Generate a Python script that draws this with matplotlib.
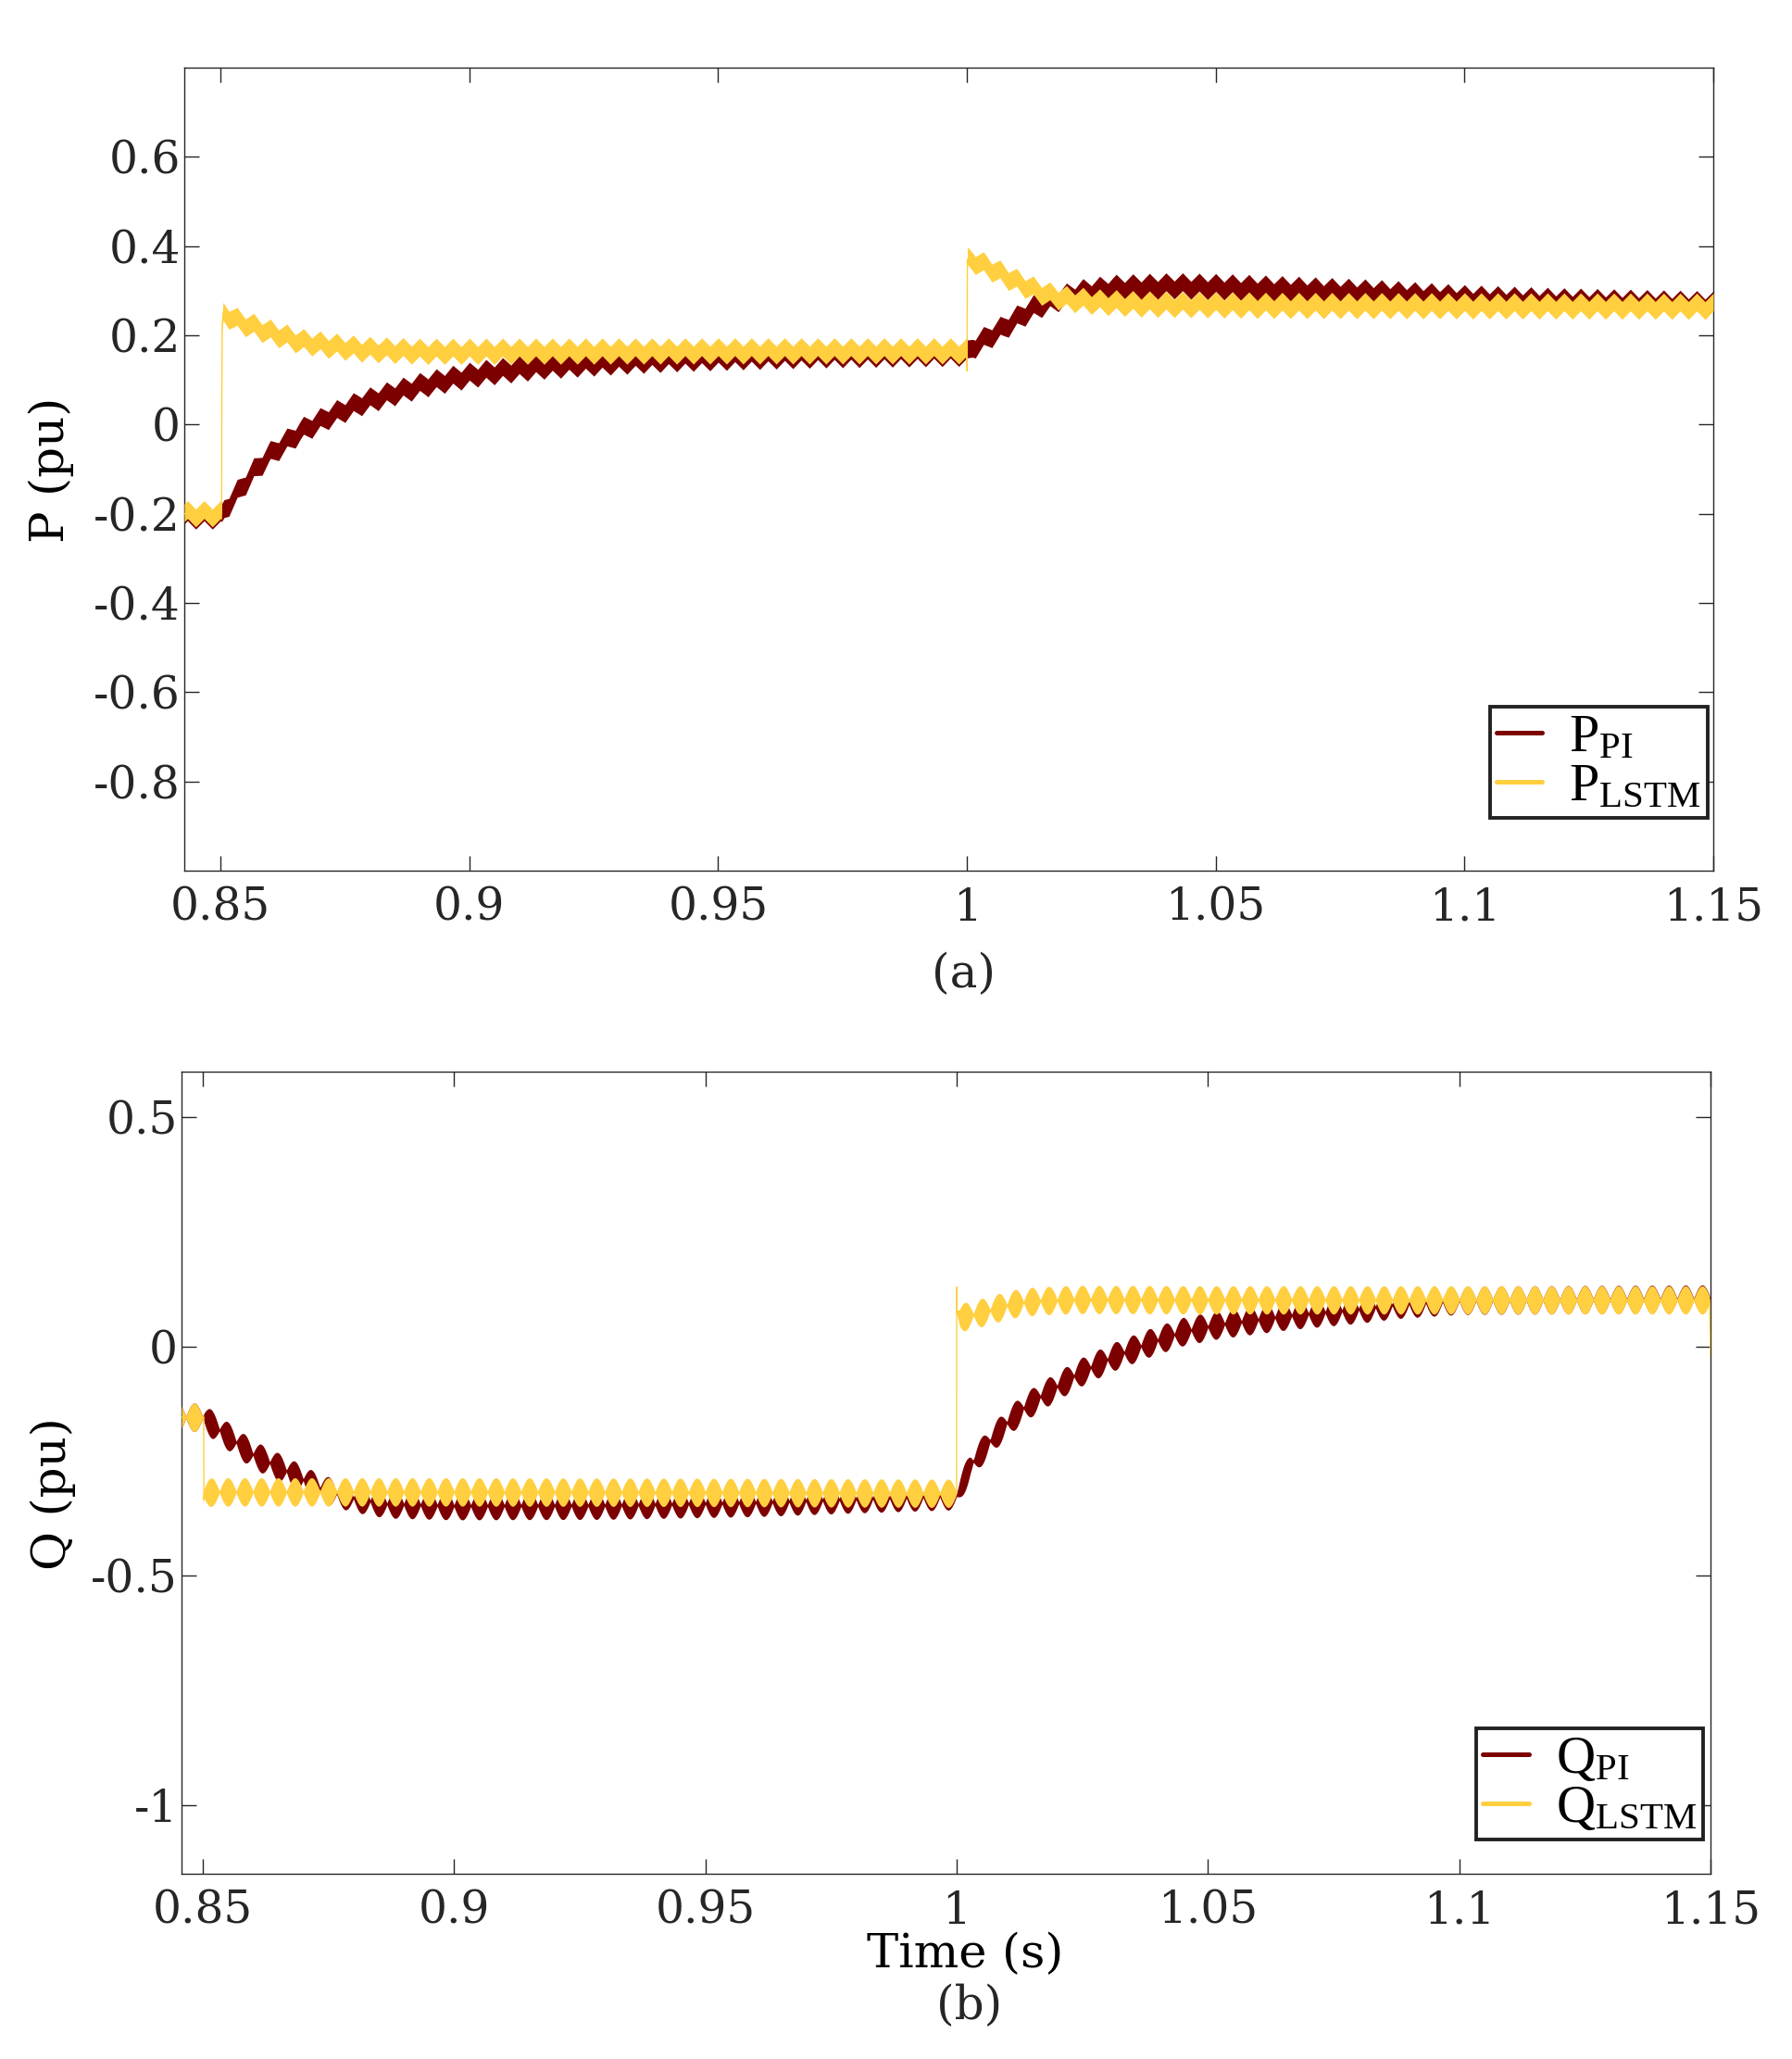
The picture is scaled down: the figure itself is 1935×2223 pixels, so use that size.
import numpy as np
import matplotlib
matplotlib.use("Agg")
import matplotlib.pyplot as plt
from matplotlib.lines import Line2D

# ---------------- data ----------------
# Panel (a): active power P (pu), mean trajectory
t_P_PI = [0.8427, 0.8502, 0.8507, 0.8535, 0.8566, 0.8597, 0.8660, 0.8720, 0.8780,
          0.8845, 0.8910, 0.8970, 0.9030, 0.9150, 0.9280, 0.9400, 0.9550, 0.9700,
          0.9850, 1.0000, 1.0012, 1.0043, 1.0074, 1.0105, 1.0136, 1.0167, 1.0198,
          1.0230, 1.0292, 1.0416, 1.0540, 1.0664, 1.0820, 1.1000, 1.1200, 1.1500]
p_PI = [-0.205, -0.205, -0.19, -0.15, -0.105, -0.068, -0.015, 0.02, 0.048,
        0.07, 0.09, 0.104, 0.116, 0.131, 0.140, 0.147, 0.152, 0.156,
        0.158, 0.160, 0.175, 0.197, 0.218, 0.242, 0.263, 0.277, 0.287,
        0.297, 0.307, 0.311, 0.308, 0.303, 0.296, 0.284, 0.277, 0.270]

t_P_LSTM = [0.8427, 0.8502, 0.85025, 0.8503, 0.8505, 0.8535, 0.8566, 0.8597, 0.8659,
            0.8721, 0.8783, 0.8900, 0.9500, 1.0000, 1.00003, 1.00008, 1.0012, 1.0043,
            1.0074, 1.0105, 1.0136, 1.0167, 1.0200, 1.0260, 1.0350, 1.0600, 1.1000, 1.1500]
p_LSTM = [-0.200, -0.200, 0.08, 0.22, 0.250, 0.232, 0.220, 0.208, 0.187,
          0.177, 0.169, 0.164, 0.165, 0.165, 0.120, 0.370, 0.368, 0.353,
          0.335, 0.318, 0.302, 0.290, 0.282, 0.275, 0.270, 0.267, 0.266, 0.265]

# Panel (b): reactive power Q (pu), mean trajectory
t_Q_PI = [0.8458, 0.8502, 0.8520, 0.8600, 0.8668, 0.8735, 0.8800, 0.8864, 0.9000,
          0.9300, 0.9600, 0.9800, 1.0000, 1.0006, 1.0027, 1.0063, 1.0098, 1.0133,
          1.0169, 1.0204, 1.0239, 1.0275, 1.0310, 1.0380, 1.0451, 1.0521, 1.0592,
          1.0662, 1.0733, 1.0803, 1.0874, 1.1000, 1.1500]
q_PI = [-0.154, -0.154, -0.171, -0.235, -0.272, -0.310, -0.330, -0.343, -0.347,
        -0.346, -0.340, -0.332, -0.325, -0.310, -0.259, -0.210, -0.168, -0.134,
        -0.107, -0.084, -0.060, -0.041, -0.023, 0.007, 0.033, 0.048, 0.058,
        0.068, 0.075, 0.082, 0.092, 0.101, 0.104]

t_Q_LSTM = [0.8458, 0.8502, 0.85025, 0.8503, 0.8520, 0.9000, 0.9500, 1.0000, 1.00003,
            1.00008, 1.0006, 1.0034, 1.0063, 1.0098, 1.0133, 1.0169, 1.0239, 1.0500,
            1.1000, 1.1498, 1.1500]
q_LSTM = [-0.154, -0.154, -0.335, -0.320, -0.317, -0.317, -0.318, -0.320, 0.130,
          0.075, 0.063, 0.070, 0.078, 0.090, 0.097, 0.100, 0.103, 0.102,
          0.102, 0.102, -0.020]

# ripple description (300 Hz, 6th harmonic of 50 Hz)
RIPPLE_HZ = 300.0
P_RIPPLE_HALF = 0.0095      # triangular offset, half peak-to-peak (pu)
P_BAND_HALF = 0.020         # half vertical band thickness (pu)
Q_BAND_MAX = 0.031          # lens max half thickness (pu)
Q_BAND_MIN = 0.002

x_ticks = [0.85, 0.9, 0.95, 1.0, 1.05, 1.1, 1.15]
x_ticklabels = ["0.85", "0.9", "0.95", "1", "1.05", "1.1", "1.15"]
yP_ticks = [-0.8, -0.6, -0.4, -0.2, 0.0, 0.2, 0.4, 0.6]
yP_ticklabels = ["-0.8", "-0.6", "-0.4", "-0.2", "0", "0.2", "0.4", "0.6"]
yQ_ticks = [-1.0, -0.5, 0.0, 0.5]
yQ_ticklabels = ["-1", "-0.5", "0", "0.5"]

C_PI = "#7d0000"
C_LSTM = "#ffcf40"
C_AX = "#262626"

# ---------------- figure ----------------
plt.rcParams["axes.unicode_minus"] = False
plt.rcParams["mathtext.fontset"] = "custom"
plt.rcParams["mathtext.rm"] = "Liberation Serif"
plt.rcParams["mathtext.it"] = "Liberation Serif:italic"

W, H, DPI = 1935, 2223, 100
fig = plt.figure(figsize=(W / DPI, H / DPI), dpi=DPI)

axA = fig.add_axes([199 / W, 1 - 940 / H, 1651 / W, 867 / H])
axB = fig.add_axes([196 / W, 1 - 2023 / H, 1651 / W, 866 / H])

TICKFONT = "DejaVu Serif"


def dense(tk):
    g = np.arange(tk[0], tk[-1], 1.5e-5)
    return np.union1d(g, np.asarray(tk))


def draw_P(ax, tk, vk, color, z):
    t = dense(tk)
    c = np.interp(t, tk, vk)
    ph = (t * RIPPLE_HZ) % 1.0
    tri = 2 * np.abs(2 * ph - 1) - 1
    mid = c + P_RIPPLE_HALF * tri
    ax.fill_between(t, mid - P_BAND_HALF, mid + P_BAND_HALF, color=color,
                    lw=0, zorder=z)
    ax.plot(tk, vk, color=color, lw=1.0, zorder=z)


def draw_Q(ax, tk, vk, color, z):
    t = dense(tk)
    c = np.interp(t, tk, vk)
    h = Q_BAND_MIN + (Q_BAND_MAX - Q_BAND_MIN) * np.abs(np.sin(np.pi * RIPPLE_HZ * t))
    ax.fill_between(t, c - h, c + h, color=color, lw=0, zorder=z)
    ax.plot(tk, vk, color=color, lw=1.0, zorder=z)


draw_P(axA, t_P_PI, p_PI, C_PI, 2)
draw_P(axA, t_P_LSTM, p_LSTM, C_LSTM, 3)
draw_Q(axB, t_Q_PI, q_PI, C_PI, 2)
draw_Q(axB, t_Q_LSTM, q_LSTM, C_LSTM, 3)

axA.set_xlim(0.8427, 1.15)
axA.set_ylim(-1.0, 0.8)
axB.set_xlim(0.8458, 1.15)
axB.set_ylim(-1.15, 0.6)

for ax, yt, ytl in [(axA, yP_ticks, yP_ticklabels), (axB, yQ_ticks, yQ_ticklabels)]:
    ax.set_xticks(x_ticks)
    ax.set_xticklabels(x_ticklabels)
    ax.set_yticks(yt)
    ax.set_yticklabels(ytl)
    ax.tick_params(direction="in", length=11.5, width=1.0, top=True, right=True,
                   colors=C_AX, labelsize=35)
    ax.tick_params(axis="x", pad=12)
    ax.tick_params(axis="y", pad=3)
    for lab in ax.get_xticklabels() + ax.get_yticklabels():
        lab.set_family(TICKFONT)
    for s in ax.spines.values():
        s.set_color(C_AX)
        s.set_linewidth(1.0)

# legends
def legend(ax, labels, anchor):
    hs = [Line2D([0], [0], color=C_PI, lw=3.6, solid_capstyle="round"),
          Line2D([0], [0], color=C_LSTM, lw=3.6, solid_capstyle="round")]
    lg = ax.legend(hs, labels, loc="lower right", bbox_to_anchor=anchor,
                   borderaxespad=0, fancybox=False, framealpha=1,
                   edgecolor="#222222", prop={"family": "Liberation Serif", "size": 42},
                   handlelength=0.85, handletextpad=0.5, borderpad=0.12,
                   labelspacing=0.0)
    lg.get_frame().set_linewidth(2.8)
    lg.set_zorder(10)
    return lg

legend(axA, [r"$\mathrm{P}_{\mathrm{PI}}$", r"$\mathrm{P}_{\mathrm{LSTM}}$"], (0.9964, 0.0657))
legend(axB, [r"$\mathrm{Q}_{\mathrm{PI}}$", r"$\mathrm{Q}_{\mathrm{LSTM}}$"], (0.9952, 0.0427))

# labels
fs_lab = 37
fig.text(55 / W, 1 - 507 / H, "P (pu)", rotation=90, ha="center", va="center",
         family=TICKFONT, fontsize=fs_lab, color="black")
fig.text(57 / W, 1 - 1613 / H, "Q (pu)", rotation=90, ha="center", va="center",
         family=TICKFONT, fontsize=fs_lab, color="black")
fig.text(1040 / W, 1 - 1052 / H, "(a)", ha="center", va="center",
         family=TICKFONT, fontsize=36, color=C_AX)
fig.text(1042 / W, 1 - 2110 / H, "Time (s)", ha="center", va="center",
         family=TICKFONT, fontsize=37, color="black")
fig.text(1047 / W, 1 - 2166 / H, "(b)", ha="center", va="center",
         family=TICKFONT, fontsize=36, color=C_AX)

fig.savefig("out.png", dpi=DPI, facecolor="white")
